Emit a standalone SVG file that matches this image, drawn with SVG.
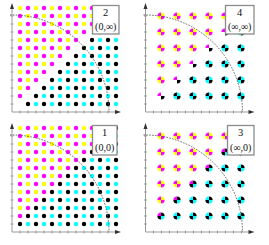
<svg xmlns="http://www.w3.org/2000/svg" xmlns:xlink="http://www.w3.org/1999/xlink" width="269" height="245" viewBox="0 0 269 245">
<style>
.axis{stroke:#9a9a9a;stroke-width:1;fill:none}
.tick{stroke:#8a8a8a;stroke-width:0.8;fill:none}
.head{fill:#333}
.arc{stroke:#555;stroke-width:0.9;stroke-dasharray:1.6 1.3;fill:none}
.box{fill:#fff;stroke:#8c8c8c;stroke-width:1.3}
.num{font-family:"Liberation Serif","Times New Roman",serif;font-size:10.5px;fill:#111;text-anchor:middle}
.crd{font-family:"Liberation Serif","Times New Roman",serif;font-size:10px;fill:#111;text-anchor:middle}
</style>
<defs>
<circle id="Y" r="2.2" fill="#ffff00"/>
<circle id="M" r="2.2" fill="#ff00ff"/>
<circle id="C" r="2.2" fill="#00ffff"/>
<circle id="K" r="2.2" fill="#000"/>
<path id="qTL" d="M0,0H-3.6A3.6,3.6 0 0 1 0,-3.6Z"/>
<path id="qTR" d="M0,0V-3.6A3.6,3.6 0 0 1 3.6,0Z"/>
<path id="qBR" d="M0,0H3.6A3.6,3.6 0 0 1 0,3.6Z"/>
<path id="qBL" d="M0,0V3.6A3.6,3.6 0 0 1 -3.6,0Z"/>
<g id="YM"><use href="#qTL" fill="#ff00ff"/><use href="#qTR" fill="#ffff00"/><use href="#qBR" fill="#ff00ff"/><use href="#qBL" fill="#ffff00"/></g>
<g id="BA"><use href="#qTL" fill="#000"/><use href="#qTR" fill="#00ffff"/><use href="#qBR" fill="#000"/><use href="#qBL" fill="#00ffff"/></g>
<g id="MA"><use href="#qTL" fill="#ff00ff"/><use href="#qBR" fill="#000"/></g>
<g id="BB"><use href="#qTL" fill="#00ffff"/><use href="#qTR" fill="#000"/><use href="#qBR" fill="#00ffff"/><use href="#qBL" fill="#000"/></g>
<g id="MB"><use href="#qTL" fill="#ff00ff"/><use href="#qTR" fill="#000"/><use href="#qBR" fill="#00ffff"/><use href="#qBL" fill="#000"/></g>
<g id="ax">
<path class="axis" d="M0,0V-104M0,0H104"/>
<path class="tick" d="M-1.5,-8h3M-1.5,-16h3M-1.5,-24h3M-1.5,-32h3M-1.5,-40h3M-1.5,-48h3M-1.5,-56h3M-1.5,-64h3M-1.5,-72h3M-1.5,-80h3M-1.5,-88h3M-1.5,-96h3M8,-1.5v3M16,-1.5v3M24,-1.5v3M32,-1.5v3M40,-1.5v3M48,-1.5v3M56,-1.5v3M64,-1.5v3M72,-1.5v3M80,-1.5v3M88,-1.5v3M96,-1.5v3"/>
<path class="head" d="M-2,-103L0,-109L2,-103ZM103,-2L109,0L103,2Z"/>
</g>
<path id="arc" class="arc" d="M-2,-97H0A97,97 0 0 1 97,0"/>
</defs>

<g id="panel2">
<use href="#ax" x="12" y="112"/>
<g id="dots2">
<g transform="translate(0,8)"><use href="#Y" x="20"/><use href="#M" x="28"/><use href="#Y" x="36"/><use href="#M" x="44"/><use href="#Y" x="52"/><use href="#M" x="60"/><use href="#Y" x="68"/><use href="#M" x="76"/><use href="#Y" x="84"/><use href="#M" x="92"/><use href="#Y" x="100"/><use href="#M" x="108"/></g>
<g transform="translate(0,16)"><use href="#M" x="20"/><use href="#Y" x="28"/><use href="#M" x="36"/><use href="#Y" x="44"/><use href="#M" x="52"/><use href="#Y" x="60"/><use href="#M" x="68"/><use href="#Y" x="76"/><use href="#M" x="84"/><use href="#Y" x="92"/><use href="#M" x="100"/><use href="#K" x="116"/></g>
<g transform="translate(0,24)"><use href="#Y" x="20"/><use href="#M" x="28"/><use href="#Y" x="36"/><use href="#M" x="44"/><use href="#Y" x="52"/><use href="#M" x="60"/><use href="#Y" x="68"/><use href="#M" x="76"/><use href="#Y" x="84"/><use href="#M" x="92"/><use href="#K" x="108"/><use href="#C" x="116"/></g>
<g transform="translate(0,32)"><use href="#M" x="20"/><use href="#Y" x="28"/><use href="#M" x="36"/><use href="#Y" x="44"/><use href="#M" x="52"/><use href="#Y" x="60"/><use href="#M" x="68"/><use href="#Y" x="76"/><use href="#M" x="84"/><use href="#K" x="100"/><use href="#C" x="108"/><use href="#K" x="116"/></g>
<g transform="translate(0,40)"><use href="#Y" x="20"/><use href="#M" x="28"/><use href="#Y" x="36"/><use href="#M" x="44"/><use href="#Y" x="52"/><use href="#M" x="60"/><use href="#Y" x="68"/><use href="#M" x="76"/><use href="#K" x="92"/><use href="#C" x="100"/><use href="#K" x="108"/><use href="#C" x="116"/></g>
<g transform="translate(0,48)"><use href="#M" x="20"/><use href="#Y" x="28"/><use href="#M" x="36"/><use href="#Y" x="44"/><use href="#M" x="52"/><use href="#Y" x="60"/><use href="#M" x="68"/><use href="#K" x="84"/><use href="#C" x="92"/><use href="#K" x="100"/><use href="#C" x="108"/><use href="#K" x="116"/></g>
<g transform="translate(0,56)"><use href="#Y" x="20"/><use href="#M" x="28"/><use href="#Y" x="36"/><use href="#M" x="44"/><use href="#Y" x="52"/><use href="#M" x="60"/><use href="#K" x="76"/><use href="#C" x="84"/><use href="#K" x="92"/><use href="#C" x="100"/><use href="#K" x="108"/><use href="#C" x="116"/></g>
<g transform="translate(0,64)"><use href="#M" x="20"/><use href="#Y" x="28"/><use href="#M" x="36"/><use href="#Y" x="44"/><use href="#M" x="52"/><use href="#K" x="68"/><use href="#C" x="76"/><use href="#K" x="84"/><use href="#C" x="92"/><use href="#K" x="100"/><use href="#C" x="108"/><use href="#K" x="116"/></g>
<g transform="translate(0,72)"><use href="#Y" x="20"/><use href="#M" x="28"/><use href="#Y" x="36"/><use href="#M" x="44"/><use href="#K" x="60"/><use href="#C" x="68"/><use href="#K" x="76"/><use href="#C" x="84"/><use href="#K" x="92"/><use href="#C" x="100"/><use href="#K" x="108"/><use href="#C" x="116"/></g>
<g transform="translate(0,80)"><use href="#M" x="20"/><use href="#Y" x="28"/><use href="#M" x="36"/><use href="#K" x="52"/><use href="#C" x="60"/><use href="#K" x="68"/><use href="#C" x="76"/><use href="#K" x="84"/><use href="#C" x="92"/><use href="#K" x="100"/><use href="#C" x="108"/><use href="#K" x="116"/></g>
<g transform="translate(0,88)"><use href="#Y" x="20"/><use href="#M" x="28"/><use href="#K" x="44"/><use href="#C" x="52"/><use href="#K" x="60"/><use href="#C" x="68"/><use href="#K" x="76"/><use href="#C" x="84"/><use href="#K" x="92"/><use href="#C" x="100"/><use href="#K" x="108"/><use href="#C" x="116"/></g>
<g transform="translate(0,96)"><use href="#M" x="20"/><use href="#K" x="36"/><use href="#C" x="44"/><use href="#K" x="52"/><use href="#C" x="60"/><use href="#K" x="68"/><use href="#C" x="76"/><use href="#K" x="84"/><use href="#C" x="92"/><use href="#K" x="100"/><use href="#C" x="108"/><use href="#K" x="116"/></g>
<g transform="translate(0,104)"><use href="#K" x="28"/><use href="#C" x="36"/><use href="#K" x="44"/><use href="#C" x="52"/><use href="#K" x="60"/><use href="#C" x="68"/><use href="#K" x="76"/><use href="#C" x="84"/><use href="#K" x="92"/><use href="#C" x="100"/><use href="#K" x="108"/><use href="#C" x="116"/></g>
</g>
<use href="#arc" x="12" y="112"/>
<rect class="box" x="92.5" y="5.5" width="26.5" height="28.5"/>
<text class="num" x="105.7" y="16">2</text>
<text class="crd" x="105.7" y="30">(0,∞)</text>
</g>

<g id="panel4">
<use href="#ax" x="145.5" y="112"/>
<g id="dots4">
<g transform="translate(0,16)"><use href="#YM" x="161"/><use href="#YM" x="177"/><use href="#YM" x="193"/><use href="#YM" x="209"/><use href="#YM" x="225"/><use href="#MA" x="241"/></g>
<g transform="translate(0,32)"><use href="#YM" x="161"/><use href="#YM" x="177"/><use href="#YM" x="193"/><use href="#YM" x="209"/><use href="#MA" x="225"/><use href="#BA" x="241"/></g>
<g transform="translate(0,48)"><use href="#YM" x="161"/><use href="#YM" x="177"/><use href="#YM" x="193"/><use href="#MA" x="209"/><use href="#BA" x="225"/><use href="#BA" x="241"/></g>
<g transform="translate(0,64)"><use href="#YM" x="161"/><use href="#YM" x="177"/><use href="#MA" x="193"/><use href="#BA" x="209"/><use href="#BA" x="225"/><use href="#BA" x="241"/></g>
<g transform="translate(0,80)"><use href="#YM" x="161"/><use href="#MA" x="177"/><use href="#BA" x="193"/><use href="#BA" x="209"/><use href="#BA" x="225"/><use href="#BA" x="241"/></g>
<g transform="translate(0,96)"><use href="#MA" x="161"/><use href="#BA" x="177"/><use href="#BA" x="193"/><use href="#BA" x="209"/><use href="#BA" x="225"/><use href="#BA" x="241"/></g>
</g>
<use href="#arc" x="145.5" y="112"/>
<rect class="box" x="225.5" y="5.5" width="28.5" height="28.5"/>
<text class="num" x="239.7" y="16">4</text>
<text class="crd" x="239.7" y="30">(∞,∞)</text>
</g>

<g id="panel1">
<use href="#ax" x="12" y="232"/>
<g id="dots1">
<g transform="translate(0,128)"><use href="#Y" x="20"/><use href="#M" x="28"/><use href="#Y" x="36"/><use href="#M" x="44"/><use href="#Y" x="52"/><use href="#M" x="60"/><use href="#Y" x="68"/><use href="#M" x="76"/><use href="#Y" x="84"/><use href="#M" x="92"/><use href="#Y" x="100"/><use href="#M" x="108"/><use href="#K" x="116"/></g>
<g transform="translate(0,136)"><use href="#M" x="20"/><use href="#Y" x="28"/><use href="#M" x="36"/><use href="#Y" x="44"/><use href="#M" x="52"/><use href="#Y" x="60"/><use href="#M" x="68"/><use href="#Y" x="76"/><use href="#M" x="84"/><use href="#Y" x="92"/><use href="#M" x="100"/><use href="#K" x="108"/><use href="#C" x="116"/></g>
<g transform="translate(0,144)"><use href="#Y" x="20"/><use href="#M" x="28"/><use href="#Y" x="36"/><use href="#M" x="44"/><use href="#Y" x="52"/><use href="#M" x="60"/><use href="#Y" x="68"/><use href="#M" x="76"/><use href="#Y" x="84"/><use href="#M" x="92"/><use href="#K" x="100"/><use href="#C" x="108"/><use href="#K" x="116"/></g>
<g transform="translate(0,152)"><use href="#M" x="20"/><use href="#Y" x="28"/><use href="#M" x="36"/><use href="#Y" x="44"/><use href="#M" x="52"/><use href="#Y" x="60"/><use href="#M" x="68"/><use href="#Y" x="76"/><use href="#M" x="84"/><use href="#K" x="92"/><use href="#C" x="100"/><use href="#K" x="108"/><use href="#C" x="116"/></g>
<g transform="translate(0,160)"><use href="#Y" x="20"/><use href="#M" x="28"/><use href="#Y" x="36"/><use href="#M" x="44"/><use href="#Y" x="52"/><use href="#M" x="60"/><use href="#Y" x="68"/><use href="#M" x="76"/><use href="#K" x="84"/><use href="#C" x="92"/><use href="#K" x="100"/><use href="#C" x="108"/><use href="#K" x="116"/></g>
<g transform="translate(0,168)"><use href="#M" x="20"/><use href="#Y" x="28"/><use href="#M" x="36"/><use href="#Y" x="44"/><use href="#M" x="52"/><use href="#Y" x="60"/><use href="#M" x="68"/><use href="#K" x="76"/><use href="#C" x="84"/><use href="#K" x="92"/><use href="#C" x="100"/><use href="#K" x="108"/><use href="#C" x="116"/></g>
<g transform="translate(0,176)"><use href="#Y" x="20"/><use href="#M" x="28"/><use href="#Y" x="36"/><use href="#M" x="44"/><use href="#Y" x="52"/><use href="#M" x="60"/><use href="#K" x="68"/><use href="#C" x="76"/><use href="#K" x="84"/><use href="#C" x="92"/><use href="#K" x="100"/><use href="#C" x="108"/><use href="#K" x="116"/></g>
<g transform="translate(0,184)"><use href="#M" x="20"/><use href="#Y" x="28"/><use href="#M" x="36"/><use href="#Y" x="44"/><use href="#M" x="52"/><use href="#K" x="60"/><use href="#C" x="68"/><use href="#K" x="76"/><use href="#C" x="84"/><use href="#K" x="92"/><use href="#C" x="100"/><use href="#K" x="108"/><use href="#C" x="116"/></g>
<g transform="translate(0,192)"><use href="#Y" x="20"/><use href="#M" x="28"/><use href="#Y" x="36"/><use href="#M" x="44"/><use href="#K" x="52"/><use href="#C" x="60"/><use href="#K" x="68"/><use href="#C" x="76"/><use href="#K" x="84"/><use href="#C" x="92"/><use href="#K" x="100"/><use href="#C" x="108"/><use href="#K" x="116"/></g>
<g transform="translate(0,200)"><use href="#M" x="20"/><use href="#Y" x="28"/><use href="#M" x="36"/><use href="#K" x="44"/><use href="#C" x="52"/><use href="#K" x="60"/><use href="#C" x="68"/><use href="#K" x="76"/><use href="#C" x="84"/><use href="#K" x="92"/><use href="#C" x="100"/><use href="#K" x="108"/><use href="#C" x="116"/></g>
<g transform="translate(0,208)"><use href="#Y" x="20"/><use href="#M" x="28"/><use href="#K" x="36"/><use href="#C" x="44"/><use href="#K" x="52"/><use href="#C" x="60"/><use href="#K" x="68"/><use href="#C" x="76"/><use href="#K" x="84"/><use href="#C" x="92"/><use href="#K" x="100"/><use href="#C" x="108"/><use href="#K" x="116"/></g>
<g transform="translate(0,216)"><use href="#M" x="20"/><use href="#K" x="28"/><use href="#C" x="36"/><use href="#K" x="44"/><use href="#C" x="52"/><use href="#K" x="60"/><use href="#C" x="68"/><use href="#K" x="76"/><use href="#C" x="84"/><use href="#K" x="92"/><use href="#C" x="100"/><use href="#K" x="108"/><use href="#C" x="116"/></g>
<g transform="translate(0,224)"><use href="#K" x="20"/><use href="#C" x="28"/><use href="#K" x="36"/><use href="#C" x="44"/><use href="#K" x="52"/><use href="#C" x="60"/><use href="#K" x="68"/><use href="#C" x="76"/><use href="#K" x="84"/><use href="#C" x="92"/><use href="#K" x="100"/><use href="#C" x="108"/><use href="#K" x="116"/></g>
</g>
<use href="#arc" x="12" y="232"/>
<rect class="box" x="92.5" y="125.5" width="24.5" height="29.5"/>
<text class="num" x="104.7" y="136">1</text>
<text class="crd" x="104.7" y="151">(0,0)</text>
</g>

<g id="panel3">
<use href="#ax" x="145.5" y="232"/>
<g id="dots3">
<g transform="translate(0,136)"><use href="#YM" x="161"/><use href="#YM" x="177"/><use href="#YM" x="193"/><use href="#YM" x="209"/><use href="#YM" x="225"/><use href="#MB" x="241"/></g>
<g transform="translate(0,152)"><use href="#YM" x="161"/><use href="#YM" x="177"/><use href="#YM" x="193"/><use href="#YM" x="209"/><use href="#MB" x="225"/><use href="#BB" x="241"/></g>
<g transform="translate(0,168)"><use href="#YM" x="161"/><use href="#YM" x="177"/><use href="#YM" x="193"/><use href="#MB" x="209"/><use href="#BB" x="225"/><use href="#BB" x="241"/></g>
<g transform="translate(0,184)"><use href="#YM" x="161"/><use href="#YM" x="177"/><use href="#MB" x="193"/><use href="#BB" x="209"/><use href="#BB" x="225"/><use href="#BB" x="241"/></g>
<g transform="translate(0,200)"><use href="#YM" x="161"/><use href="#MB" x="177"/><use href="#BB" x="193"/><use href="#BB" x="209"/><use href="#BB" x="225"/><use href="#BB" x="241"/></g>
<g transform="translate(0,216)"><use href="#MB" x="161"/><use href="#BB" x="177"/><use href="#BB" x="193"/><use href="#BB" x="209"/><use href="#BB" x="225"/><use href="#BB" x="241"/></g>
</g>
<use href="#arc" x="145.5" y="232"/>
<rect class="box" x="227.5" y="125.5" width="26.5" height="29.5"/>
<text class="num" x="240.7" y="136">3</text>
<text class="crd" x="240.7" y="151">(∞,0)</text>
</g>
</svg>
